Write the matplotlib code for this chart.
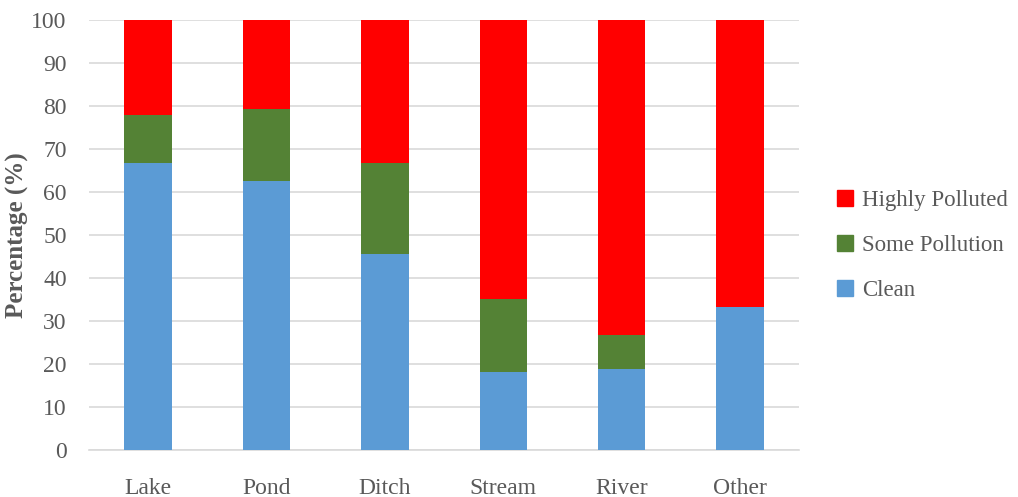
import matplotlib.pyplot as plt
from matplotlib.patches import Patch

sites = ["Lake", "Pond", "Ditch", "Stream", "River", "Other"]
clean = [66.7, 62.5, 45.5, 18.2, 18.8, 33.3]
some_pollution = [11.1, 16.7, 21.2, 16.8, 8.0, 0.0]
highly_polluted = [22.2, 20.8, 33.3, 65.0, 73.2, 66.7]

BLUE, GREEN, RED = "#5b9bd5", "#548235", "#ff0000"
GREY = "#595959"
plt.rcParams["font.family"] = ["Liberation Serif", "DejaVu Serif"]

fig = plt.figure(figsize=(10.18, 4.97), dpi=100)
ax = fig.add_axes([0.0874, 0.0946, 0.6976, 0.8654])

x = range(len(sites))
w = 0.4
ax.bar(x, clean, w, color=BLUE, zorder=3)
ax.bar(x, some_pollution, w, bottom=clean, color=GREEN, zorder=3)
bottom2 = [c + s for c, s in zip(clean, some_pollution)]
ax.bar(x, highly_polluted, w, bottom=bottom2, color=RED, zorder=3)

ax.set_xlim(-0.5, len(sites) - 0.5)
ax.set_ylim(0, 100)
ax.set_yticks(range(0, 101, 10))
ax.set_xticks(list(x))
ax.set_xticklabels(sites)
ax.tick_params(length=0, labelsize=17, labelcolor=GREY)
ax.tick_params(axis="x", pad=20)
ax.tick_params(axis="y", pad=16)
ax.yaxis.grid(True, color="#d9d9d9", linewidth=1.2, zorder=0)
for s in ("top", "right", "left"):
    ax.spines[s].set_visible(False)
ax.spines["bottom"].set_color("#d9d9d9")
ax.spines["bottom"].set_linewidth(1.2)
ax.set_ylabel("Percentage (%)", fontsize=18, color=GREY, fontweight="bold", labelpad=2)

handles = [Patch(color=RED), Patch(color=GREEN), Patch(color=BLUE)]
fig.legend(handles, ["Highly Polluted", "Some Pollution", "Clean"],
           loc="center left", bbox_to_anchor=(0.822, 0.506), frameon=False,
           borderaxespad=0, borderpad=0,
           fontsize=16.5, labelcolor=GREY, handlelength=0.7, handleheight=0.7,
           handletextpad=0.4, labelspacing=1.05)

fig.savefig("out.png", dpi=100)
